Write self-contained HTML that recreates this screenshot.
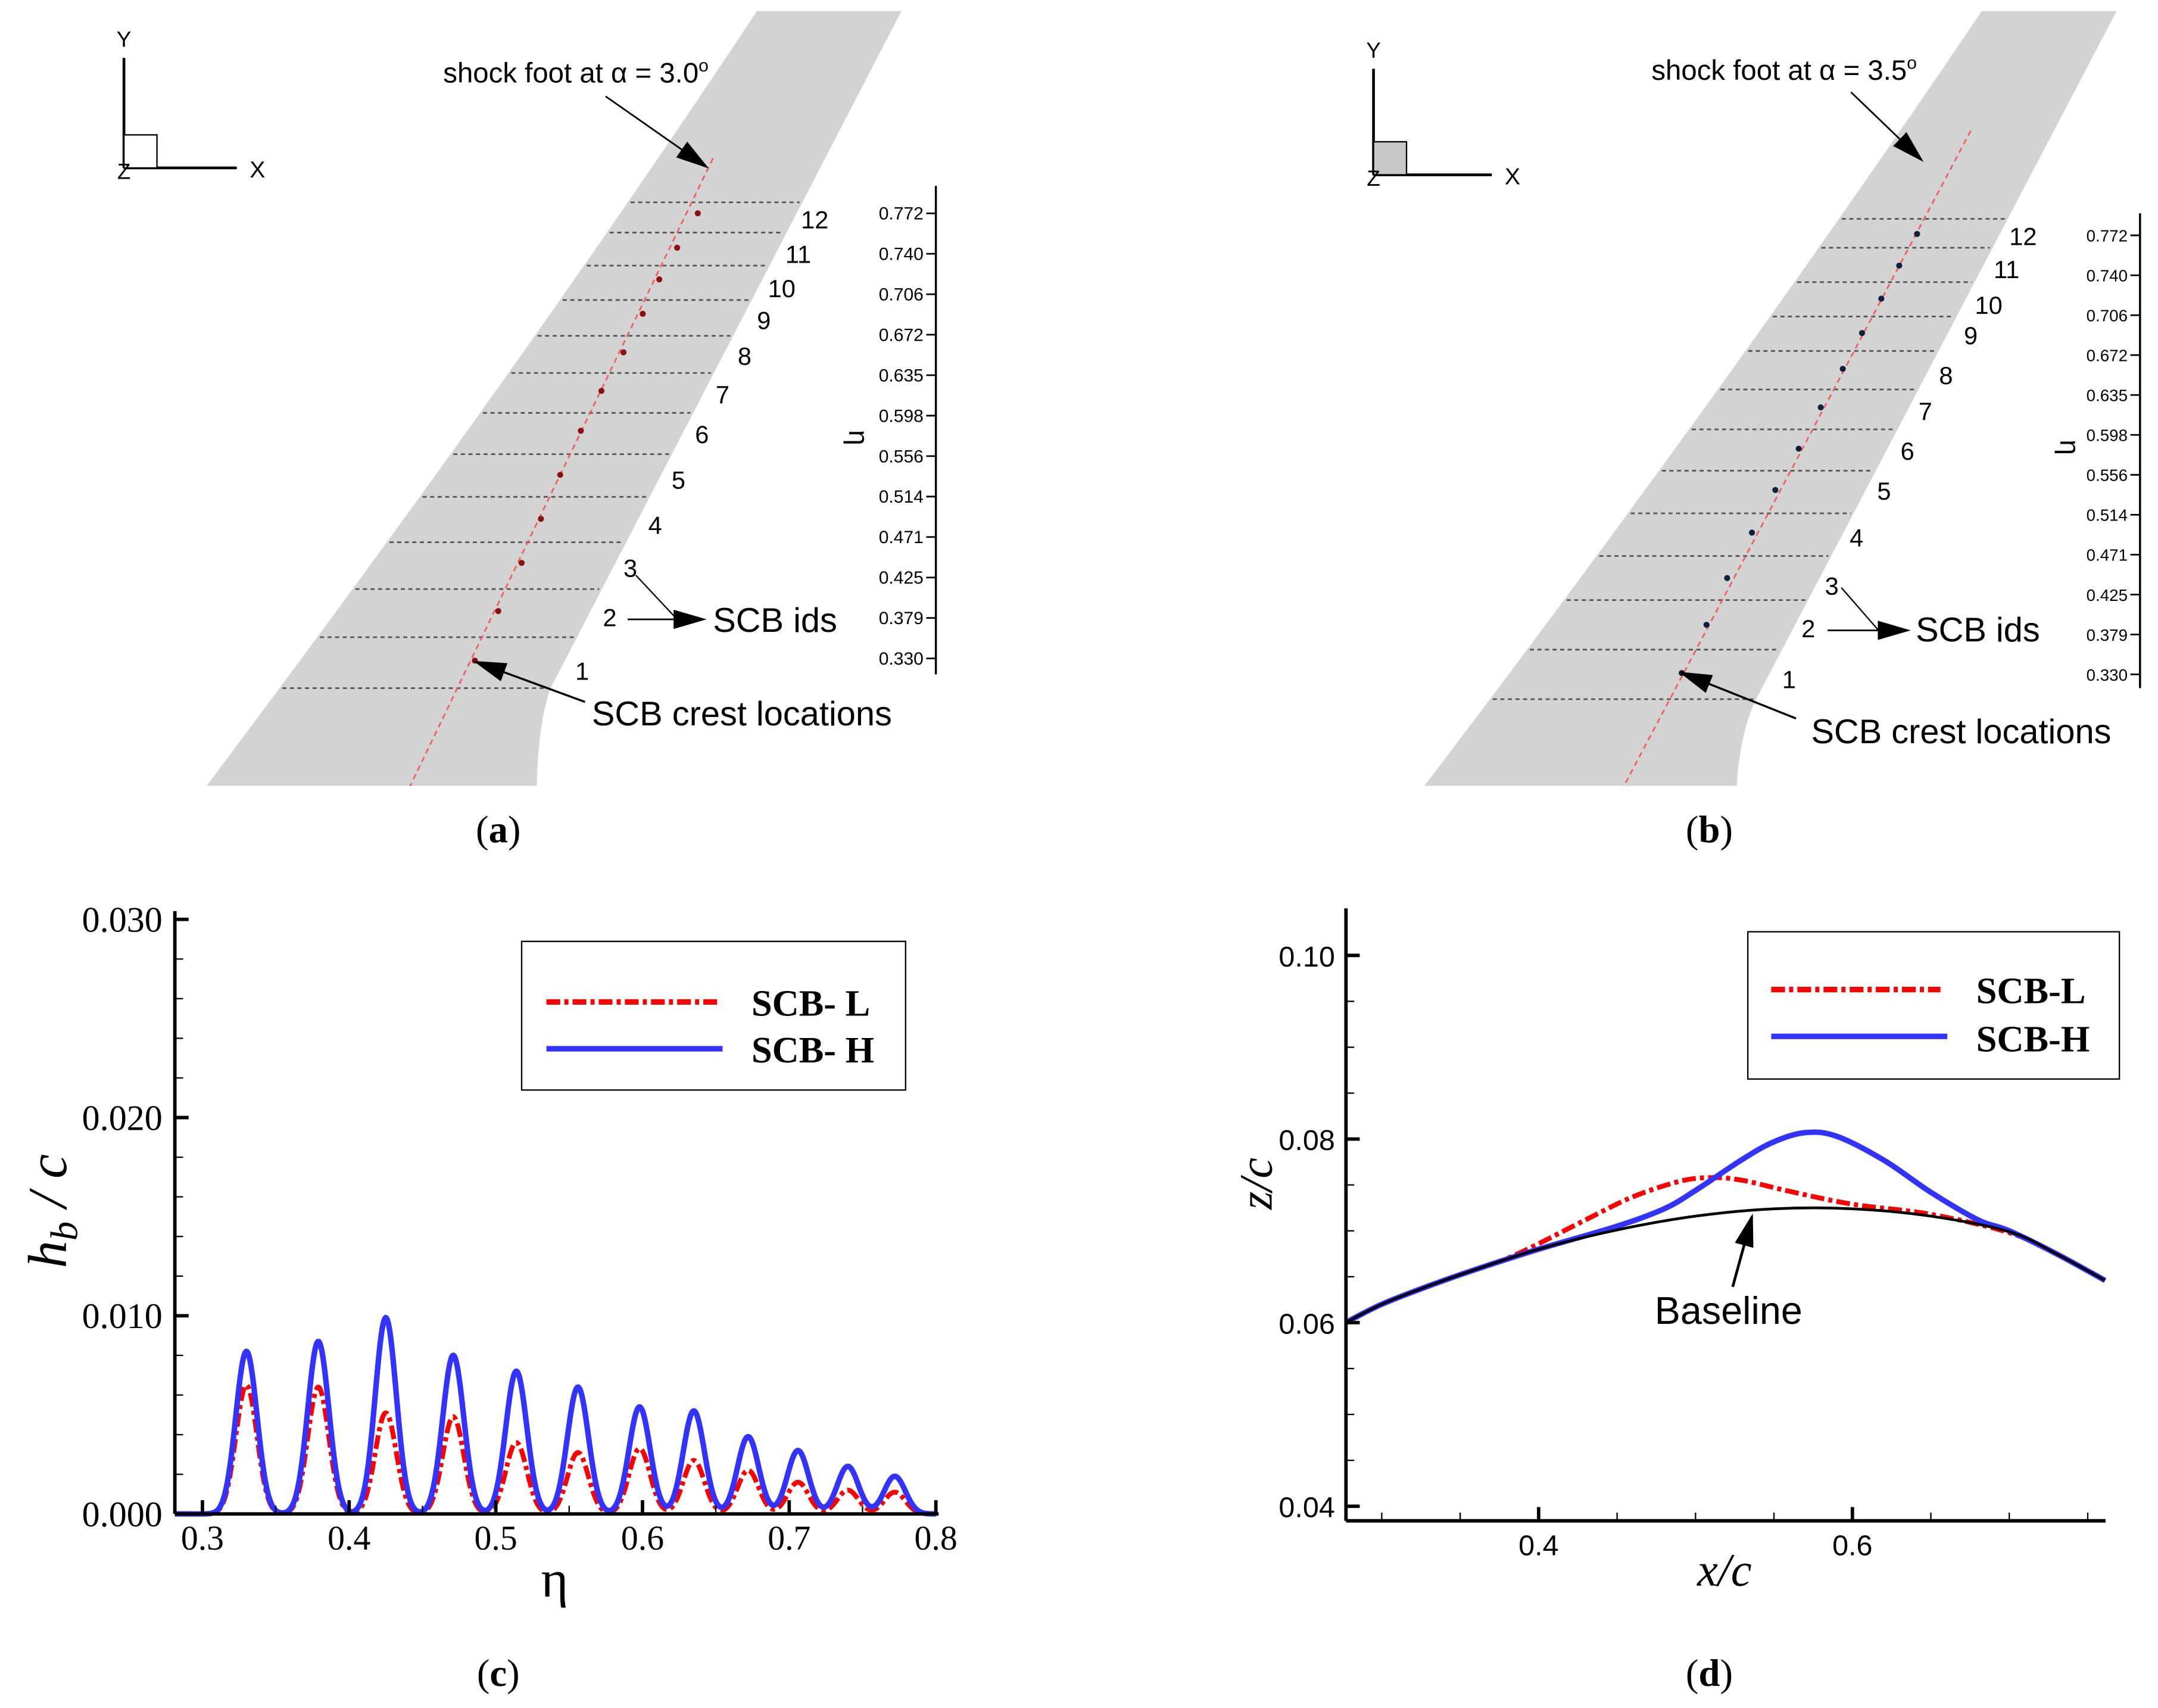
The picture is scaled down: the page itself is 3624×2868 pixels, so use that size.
<!DOCTYPE html>
<html><head><meta charset="utf-8"><style>
html,body{margin:0;padding:0;background:#fff;}
svg{display:block;}
.sans{font-family:"Liberation Sans",sans-serif;}
.serif{font-family:"Liberation Serif",serif;}
</style></head>
<body>
<svg id="fig" width="3624" height="2868" viewBox="0 0 1568 1241" xmlns="http://www.w3.org/2000/svg">
<defs>
<marker id="ah2" viewBox="0 0 10 10" refX="9" refY="5" markerWidth="24" markerHeight="14" orient="auto" markerUnits="userSpaceOnUse" preserveAspectRatio="none"><path d="M0,0 L10,5 L0,10 z" fill="#000"/></marker>
</defs>
<g id="pa"></g>
<g id="pb"></g>
<g id="pc"></g>
<g id="pd"></g>
</svg>
<script>
// ---------- Panel c data ----------
const etaCrest = [0.330,0.379,0.425,0.471,0.514,0.556,0.598,0.635,0.672,0.706,0.740,0.772];
const hbHigh = [0.0082,0.0087,0.0099,0.0080,0.0072,0.0064,0.0054,0.0052,0.0039,0.0032,0.0024,0.0019];
const hbLow  = [0.0065,0.0064,0.0051,0.0049,0.0036,0.0031,0.0033,0.0027,0.0022,0.0016,0.0012,0.0011];
const cXTicks = [0.3,0.4,0.5,0.6,0.7,0.8];
const cXTickLabels = ["0.3","0.4","0.5","0.6","0.7","0.8"];
const cYTicks = [0.000,0.010,0.020,0.030];
const cYTickLabels = ["0.000","0.010","0.020","0.030"];
// ---------- Panel d data ----------
const baseX = [0.277,0.30,0.33,0.36,0.40,0.45,0.50,0.55,0.60,0.65,0.70,0.73,0.761];
const baseZ = [0.0600,0.0620,0.0640,0.0658,0.0680,0.0701,0.0716,0.0724,0.0724,0.0716,0.0699,0.0675,0.0646];
const lowX = [0.277,0.30,0.33,0.36,0.38,0.40,0.43,0.46,0.49,0.51,0.53,0.56,0.60,0.65,0.70,0.73,0.761];
const lowZ = [0.0600,0.0620,0.0640,0.0658,0.0670,0.0686,0.0712,0.0737,0.0754,0.0758,0.0755,0.0743,0.0729,0.0718,0.0698,0.0675,0.0646];
const highX = [0.277,0.30,0.33,0.36,0.40,0.45,0.48,0.50,0.53,0.55,0.57,0.59,0.62,0.65,0.68,0.70,0.73,0.761];
const highZ = [0.0600,0.0620,0.0640,0.0658,0.0680,0.0705,0.0724,0.0744,0.0778,0.0797,0.0807,0.0803,0.0777,0.0742,0.0712,0.0700,0.0675,0.0646];
const dXTicks = [0.4,0.6];
const dXTickLabels = ["0.4","0.6"];
const dYTicks = [0.04,0.06,0.08,0.10];
const dYTickLabels = ["0.04","0.06","0.08","0.10"];
// ---------- Panel a/b labels ----------
const etaLabels = ["0.772","0.740","0.706","0.672","0.635","0.598","0.556","0.514","0.471","0.425","0.379","0.330"];

const NS="http://www.w3.org/2000/svg";
function mk(parent,tag,attrs,text){const e=document.createElementNS(NS,tag);for(const k in attrs)e.setAttribute(k,attrs[k]);if(text!==undefined)e.textContent=text;parent.appendChild(e);return e;}

function wingPanel(g,o){
  const w=mk(g,'path',{d:o.wing,fill:'#d3d3d3'});
  
  
  o.dash.forEach((y,i)=>{
    const l=mk(g,'line',{x1:0,y1:y,x2:0,y2:y,stroke:'#555','stroke-width':1.2,'stroke-dasharray':'3,2.5'});
    
    
  });
  const s=mk(g,'line',{x1:o.shock[0],y1:o.shock[1],x2:o.shock[2],y2:o.shock[3],stroke:'#f06060','stroke-width':1.2,'stroke-dasharray':'4,3'});
  
  
  o.dots.forEach(p=>{
    const c=mk(g,'circle',{cx:p[0],cy:p[1],r:2.2,fill:o.dotColor});
    
    
  });
  o.nums.forEach((p,i)=>{
    const t=mk(g,'text',{x:p[0],y:p[1],'font-size':18,'text-anchor':'middle',class:'sans'},String(12-i));
    
    
  });
  const ax=o.axes;
  mk(g,'line',{x1:ax.x,y1:ax.y0,x2:ax.x,y2:ax.y1,stroke:'#000','stroke-width':2});
  mk(g,'line',{x1:ax.x,y1:ax.y1,x2:ax.x2,y2:ax.y1,stroke:'#000','stroke-width':2});
  mk(g,'rect',{x:ax.x,y:ax.y1-24,width:24,height:24,fill:ax.fill,stroke:'#000','stroke-width':1});
  mk(g,'text',{x:ax.x,y:ax.y0-8,'font-size':16,'text-anchor':'middle',class:'sans'},'Y');
  mk(g,'text',{x:ax.x,y:ax.y1+8,'font-size':16,'text-anchor':'middle',class:'sans'},'Z');
  mk(g,'text',{x:ax.x2+15,y:ax.y1+7,'font-size':17,'text-anchor':'middle',class:'sans'},'X');
  const st=mk(g,'text',{x:o.shockText[0],y:o.shockText[1],'font-size':20.5,class:'sans'});
  st.innerHTML='shock foot at α = '+o.alpha+'<tspan dy="-8" font-size="13">o</tspan>';
  
  
  mk(g,'line',{x1:o.shockArrow[0],y1:o.shockArrow[1],x2:o.shockArrow[2],y2:o.shockArrow[3],stroke:'#000','stroke-width':1.2,'marker-end':'url(#ah2)'});
  const ct=mk(g,'text',{x:o.crestText[0],y:o.crestText[1],'font-size':25,class:'sans'},'SCB crest locations');
  
  
  mk(g,'line',{x1:o.crestArrow[0],y1:o.crestArrow[1],x2:o.crestArrow[2],y2:o.crestArrow[3],stroke:'#000','stroke-width':1.5,'marker-end':'url(#ah2)'});
  const it=mk(g,'text',{x:o.idsText[0],y:o.idsText[1],'font-size':25,class:'sans'},'SCB ids');
  
  
  mk(g,'line',{x1:o.idsArrow[0],y1:o.idsArrow[1],x2:o.idsArrow[2],y2:o.idsArrow[3],stroke:'#000','stroke-width':1.2,'marker-end':'url(#ah2)'});
  mk(g,'line',{x1:o.idsLine[0],y1:o.idsLine[1],x2:o.idsLine[2],y2:o.idsLine[3],stroke:'#000','stroke-width':1});
  const e=o.eta;
  mk(g,'line',{x1:e.x,y1:e.top,x2:e.x,y2:e.bot,stroke:'#000','stroke-width':1.5});
  etaLabels.forEach((lab,i)=>{
    const y=e.y0+i*e.dy;
    mk(g,'line',{x1:e.x-7,y1:y,x2:e.x,y2:y,stroke:'#000','stroke-width':1.2});
    const t=mk(g,'text',{x:e.x-9,y:y+4.5,'font-size':e.fs,'text-anchor':'end',class:'sans'},lab);
    
    
  });
  mk(g,'text',{x:e.lx,y:e.ly,'font-size':20,'text-anchor':'middle',class:'sans',transform:`rotate(90 ${e.lx} ${e.ly})`},'η');
  const pl=mk(g,'text',{x:o.label[0],y:o.label[1],'font-size':28,'text-anchor':'middle',class:'serif'});
  pl.innerHTML='(<tspan font-weight="bold">'+o.letter+'</tspan>)';
  
  
}
wingPanel(document.getElementById('pa'),{
  wing:'M550,8 L655,8 L400,500 Q391,525 390,571 L150,571 Q380,265 550,8 Z',
  dash:[147,169,193,218,244,271,300,330,361,394,428,463,500],
  shock:[518,115,298,571],
  dots:[[507,155],[492,180],[479,203],[467,228],[453,256],[437,284],[422,313],[407,345],[393,377],[379,409],[362,444],[345,480]],
  dotColor:'#8b1010',
  nums:[[592,166],[580,191],[568,216],[555,239],[541,265],[525,293],[510,322],[493,355],[476,388],[458,419],[443,455],[423,494]],
  axes:{x:90,y0:42,y1:122,x2:172,fill:'#fff'},
  alpha:'3.0',shockText:[322,60],shockArrow:[440,70,513,121],
  crestText:[430,527],crestArrow:[425,510,346,481],
  idsText:[518,459],idsArrow:[456,450,511,450],idsLine:[462,418,492,450],
  eta:{x:680,top:135,bot:490,y0:155,dy:29.4,fs:13,lx:617,ly:318},
  label:[362,612],letter:'a'
});
wingPanel(document.getElementById('pb'),{
  wing:'M1440,8 L1538,8 L1275,510 Q1264,535 1262,571 L1035,571 Q1260,275 1440,8 Z',
  dash:[159,180,205,230,255,283,312,342,373,404,436,472,508],
  shock:[1432,95,1180,571],
  dots:[[1393,170],[1380,193],[1367,217],[1353,242],[1339,268],[1323,296],[1307,326],[1290,356],[1273,387],[1255,420],[1240,454],[1222,489]],
  dotColor:'#10203a',
  nums:[[1470,178],[1458,202],[1445,228],[1432,250],[1414,279],[1399,305],[1386,334],[1369,363],[1349,397],[1331,432],[1314,463],[1300,500]],
  axes:{x:998,y0:50,y1:127,x2:1084,fill:'#c8c8c8'},
  alpha:'3.5',shockText:[1200,58],shockArrow:[1345,67,1396,116],
  crestText:[1316,540],crestArrow:[1305,522,1222,489],
  idsText:[1392,466],idsArrow:[1328,458,1386,458],idsLine:[1338,427,1365,458],
  eta:{x:1555,top:155,bot:500,y0:171,dy:29.0,fs:12,lx:1497,ly:325},
  label:[1242,612],letter:'b'
});
function fixDash(gid){
  const g=document.getElementById(gid);
  const p=g.querySelector('path');
  const L=p.getTotalLength();
  const pts=[];for(let i=0;i<=800;i++){const q=p.getPointAtLength(L*i/800);pts.push([q.x,q.y]);}
  g.querySelectorAll('line[stroke-dasharray="3,2.5"]').forEach(l=>{
    const y=+l.getAttribute('y1');const xs=[];
    for(let i=0;i<pts.length-1;i++){const a=pts[i],b=pts[i+1];if((a[1]-y)*(b[1]-y)<=0&&a[1]!==b[1]){xs.push(a[0]+(b[0]-a[0])*(y-a[1])/(b[1]-a[1]));}}
    if(xs.length>=2){l.setAttribute('x1',Math.min(...xs)+2);l.setAttribute('x2',Math.max(...xs)-2);}
  });
}
fixDash('pa');fixDash('pb');

// ---------- Panel c ----------
(function(){
  const g=document.getElementById('pc');
  const X0=0.2812,X1=0.8,px0=127,px1=680,Y0=0,Y1=0.030,py0=1100,py1=668;
  const sx=v=>px0+(v-X0)/(X1-X0)*(px1-px0);
  const sy=v=>py0-(v-Y0)/(Y1-Y0)*(py0-py1);
  const sig=0.0072;
  function curve(h){let d='';for(let i=0;i<=1000;i++){const x=X0+(X1-X0)*i/1000;let y=0;etaCrest.forEach((c,k)=>{y+=h[k]*Math.exp(-0.5*((x-c)/sig)**2);});d+=(i?'L':'M')+sx(x).toFixed(2)+','+sy(y).toFixed(2);}return d;}
  const lo=mk(g,'path',{d:curve(hbLow),fill:'none',stroke:'#f00','stroke-width':3.5,'stroke-dasharray':'10,3,3,3'});
  
  
  const hi=mk(g,'path',{d:curve(hbHigh),fill:'none',stroke:'#3333ff','stroke-width':4});
  
  
  mk(g,'line',{x1:px0,y1:py1-6,x2:px0,y2:py0,stroke:'#000','stroke-width':2.5});
  mk(g,'line',{x1:px0,y1:py0,x2:px1+2,y2:py0,stroke:'#000','stroke-width':2.5});
  for(let v=0;v<=0.0301;v+=0.002){const y=sy(v);const maj=Math.abs(v/0.01-Math.round(v/0.01))<1e-6;mk(g,'line',{x1:px0,y1:y,x2:px0+(maj?10:6),y2:y,stroke:'#000','stroke-width':maj?2.5:1});}
  for(let v=0.3;v<=0.801;v+=0.05){const x=sx(v);const maj=Math.abs(v*10-Math.round(v*10))<1e-6;mk(g,'line',{x1:x,y1:py0,x2:x,y2:py0-(maj?10:6),stroke:'#000','stroke-width':maj?2.5:1});}
  cYTicks.forEach((v,i)=>{const t=mk(g,'text',{x:118,y:sy(v)+9,'font-size':26,'text-anchor':'end',class:'serif'},cYTickLabels[i]);});
  cXTicks.forEach((v,i)=>{const t=mk(g,'text',{x:sx(v),y:py0+26,'font-size':25,'text-anchor':'middle',class:'serif'},cXTickLabels[i]);});
  const yt=mk(g,'text',{x:48,y:880,'font-size':40,'font-style':'italic','text-anchor':'middle',class:'serif',transform:'rotate(-90 48 880)'});
  yt.innerHTML='h<tspan font-size="28" dy="8">b</tspan><tspan dy="-8"> / c</tspan>';
  
  
  const xt=mk(g,'text',{x:403,y:1160,'font-size':38,'text-anchor':'middle',class:'serif'},'η');
  
  
  const lg=mk(g,'g',{});
  
  
  mk(lg,'rect',{x:379,y:684,width:279,height:108,fill:'#fff',stroke:'#000','stroke-width':1});
  mk(lg,'line',{x1:397,y1:728,x2:523,y2:728,stroke:'#f00','stroke-width':4,'stroke-dasharray':'10,3,3,3'});
  mk(lg,'line',{x1:397,y1:762,x2:525,y2:762,stroke:'#3333ff','stroke-width':4});
  mk(lg,'text',{x:546,y:738,'font-size':27,'font-weight':'bold',class:'serif'},'SCB- L');
  mk(lg,'text',{x:546,y:772,'font-size':27,'font-weight':'bold',class:'serif'},'SCB- H');
  const pl=mk(g,'text',{x:362,y:1225,'font-size':28,'text-anchor':'middle',class:'serif'});
  pl.innerHTML='(<tspan font-weight="bold">c</tspan>)';
  
  
})();

// ---------- Panel d ----------
(function(){
  const g=document.getElementById('pd');
  const px0=978,px1=1530,py0=1105;
  const sx=v=>1118+(v-0.4)*1140;
  const sy=v=>961-(v-0.06)*6670;
  function path(xs,zs){
    const p=xs.map((x,i)=>[sx(x),sy(zs[i])]);
    let d='M'+p[0][0]+','+p[0][1];
    for(let i=0;i<p.length-1;i++){const a=p[Math.max(0,i-1)],b=p[i],c=p[i+1],e=p[Math.min(p.length-1,i+2)];
      d+=` C${b[0]+(c[0]-a[0])/6},${b[1]+(c[1]-a[1])/6} ${c[0]-(e[0]-b[0])/6},${c[1]-(e[1]-b[1])/6} ${c[0]},${c[1]}`;}
    return d;
  }
  const lo=mk(g,'path',{d:path(lowX,lowZ),fill:'none',stroke:'#f00','stroke-width':3.5,'stroke-dasharray':'10,3,3,3'});
  
  
  const hi=mk(g,'path',{d:path(highX,highZ),fill:'none',stroke:'#3333ff','stroke-width':4});
  
  
  const bl=mk(g,'path',{d:path(baseX,baseZ),fill:'none',stroke:'#000','stroke-width':2});
  
  
  mk(g,'line',{x1:px0,y1:660,x2:px0,y2:py0,stroke:'#000','stroke-width':2.5});
  mk(g,'line',{x1:px0,y1:py0,x2:px1,y2:py0,stroke:'#000','stroke-width':2.5});
  for(let k=0;k<=12;k++){const v=0.04+k*0.005;const y=sy(v);const maj=k%4===0;mk(g,'line',{x1:px0,y1:y,x2:px0+(maj?10:6),y2:y,stroke:'#000','stroke-width':maj?2.5:1});}
  for(let k=0;k<=9;k++){const v=0.3+k*0.05;const x=sx(v);if(x>px1)break;const maj=(k===2||k===6);mk(g,'line',{x1:x,y1:py0,x2:x,y2:py0-(maj?10:6),stroke:'#000','stroke-width':maj?2.5:1});}
  dYTicks.forEach((v,i)=>{const t=mk(g,'text',{x:970,y:sy(v)+8,'font-size':21,'text-anchor':'end',class:'sans'},dYTickLabels[i]);});
  dXTicks.forEach((v,i)=>{const t=mk(g,'text',{x:sx(v),y:py0+25,'font-size':21,'text-anchor':'middle',class:'sans'},dXTickLabels[i]);});
  const yt=mk(g,'text',{x:924,y:860,'font-size':34,'font-style':'italic','text-anchor':'middle',class:'serif',transform:'rotate(-90 924 860)'},'z/c');
  
  
  const xt=mk(g,'text',{x:1253,y:1152,'font-size':34,'font-style':'italic','text-anchor':'middle',class:'serif'},'x/c');
  
  
  const bt=mk(g,'text',{x:1256,y:962,'font-size':28,'text-anchor':'middle',class:'sans'},'Baseline');
  
  
  mk(g,'line',{x1:1259,y1:935,x2:1273,y2:884,stroke:'#000','stroke-width':2,'marker-end':'url(#ah2)'});
  const lg=mk(g,'g',{});
  
  
  mk(lg,'rect',{x:1270,y:677,width:270,height:107,fill:'#fff',stroke:'#000','stroke-width':1});
  mk(lg,'line',{x1:1287,y1:719,x2:1410,y2:719,stroke:'#f00','stroke-width':4,'stroke-dasharray':'10,3,3,3'});
  mk(lg,'line',{x1:1287,y1:753,x2:1415,y2:753,stroke:'#3333ff','stroke-width':4});
  mk(lg,'text',{x:1436,y:729,'font-size':27,'font-weight':'bold',class:'serif'},'SCB-L');
  mk(lg,'text',{x:1436,y:764,'font-size':27,'font-weight':'bold',class:'serif'},'SCB-H');
  const pl=mk(g,'text',{x:1242,y:1225,'font-size':28,'text-anchor':'middle',class:'serif'});
  pl.innerHTML='(<tspan font-weight="bold">d</tspan>)';
  
  
})();
</script>
</body></html>
